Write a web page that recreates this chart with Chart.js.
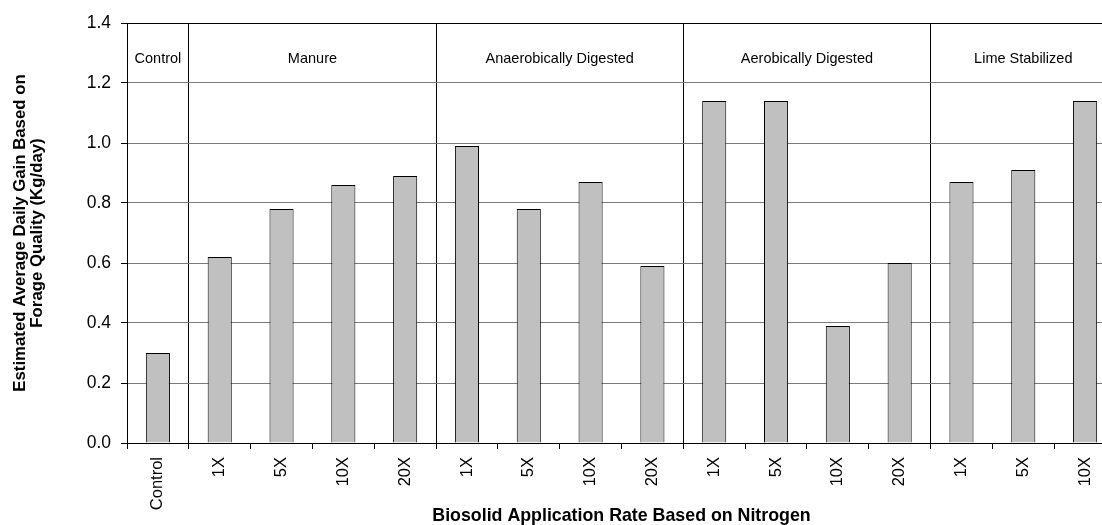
<!DOCTYPE html>
<html>
<head>
<meta charset="utf-8">
<script src="https://cdn.jsdelivr.net/npm/chart.js@4/dist/chart.umd.min.js"></script>
<style>
  html, body { margin: 0; padding: 0; background: #fff; overflow: hidden; }
  #wrap { width: 1102px; height: 525px; overflow: hidden; }
</style>
</head>
<body>
<div id="wrap"><canvas id="chart" width="1120" height="525"></canvas></div>
<script>
const categories = ["Control", "1X", "5X", "10X", "20X", "1X", "5X", "10X", "20X", "1X", "5X", "10X", "20X", "1X", "5X", "10X"];
const gain = [0.30, 0.62, 0.78, 0.86, 0.89, 0.99, 0.78, 0.87, 0.59, 1.14, 1.14, 0.39, 0.60, 0.87, 0.91, 1.14];
const groupNames = ["Control", "Manure", "Anaerobically Digested", "Aerobically Digested", "Lime Stabilized"];
const groupSizes = [1, 4, 4, 4, 3];
const yTicks = [0, 0.2, 0.4, 0.6, 0.8, 1.0, 1.2, 1.4];

const FONT = '"Liberation Sans", Arial, sans-serif';

// category index where each new group starts (a black divider is drawn there)
const dividers = [];
(() => {
	let n = 0;
	groupSizes.forEach((s, i) => {
		if (i > 0) dividers.push(n);
		n += s;
	});
})();

const groupLabels = {
	id: "groupLabels",
	afterDraw(chart) {
		const { ctx, scales: { x, y } } = chart;
		ctx.save();
		ctx.font = "14.5px " + FONT;
		ctx.fillStyle = "#000";
		ctx.textAlign = "center";
		ctx.textBaseline = "middle";
		let start = 0;
		groupNames.forEach((name, i) => {
			const end = start + groupSizes[i] - 1;
			const cx = (x.getPixelForValue(start) + x.getPixelForValue(end)) / 2;
			ctx.fillText(name, cx, y.getPixelForValue(1.3) + 6);
			start = end + 1;
		});
		ctx.restore();
	},
};

new Chart(document.getElementById("chart"), {
	type: "bar",
	data: {
		labels: categories,
		datasets: [
			{
				data: gain,
				backgroundColor: "#C0C0C0",
				borderColor: "#000",
				borderWidth: 1,
				barPercentage: 0.39,
				categoryPercentage: 1,
			},
		],
	},
	options: {
		responsive: false,
		animation: false,
		devicePixelRatio: 1,
		layout: { padding: { top: 23, right: 4, left: 0, bottom: 0 } },
		plugins: {
			legend: { display: false },
			tooltip: { enabled: false },
		},
		scales: {
			x: {
				offset: true,
				afterFit: (s) => { s.height = 82; },
				grid: {
					offset: true,
					color: (c) => (dividers.includes(c.index) ? "#000" : "rgba(0,0,0,0)"),
					tickColor: "#000",
					tickLength: 6,
					lineWidth: 1,
				},
				border: { color: "#000", width: 1 },
				ticks: {
					autoSkip: false,
					minRotation: 90,
					maxRotation: 90,
					padding: 8,
					color: "#000",
					font: { family: FONT, size: 16.5 },
				},
				title: {
					display: true,
					text: "Biosolid Application Rate Based on Nitrogen",
					color: "#000",
					font: { family: FONT, size: 17.8, weight: "bold", lineHeight: 1.0 },
					padding: { top: 0, bottom: 0 },
				},
			},
			y: {
				min: 0,
				max: 1.4,
				afterFit: (s) => { s.width = 127; },
				afterBuildTicks: (s) => { s.ticks = yTicks.map((v) => ({ value: v })); },
				grid: {
					color: (c) => (c.tick && c.tick.value === 1.4 ? "#000" : "#7a7a7a"),
					tickColor: "#000",
					tickLength: 6,
					lineWidth: 1,
				},
				border: { color: "#000", width: 1 },
				ticks: {
					padding: 10,
					color: "#000",
					font: { family: FONT, size: 17.5 },
					callback: (v) => Number(v).toFixed(1),
				},
				title: {
					display: true,
					text: ["Estimated Average Daily Gain Based on", "Forage Quality (Kg/day)"],
					color: "#000",
					font: { family: FONT, size: 16.8, weight: "bold", lineHeight: 1.0 },
					padding: { top: 12, bottom: 0 },
				},
			},
		},
	},
	plugins: [groupLabels],
});
</script>
</body>
</html>
